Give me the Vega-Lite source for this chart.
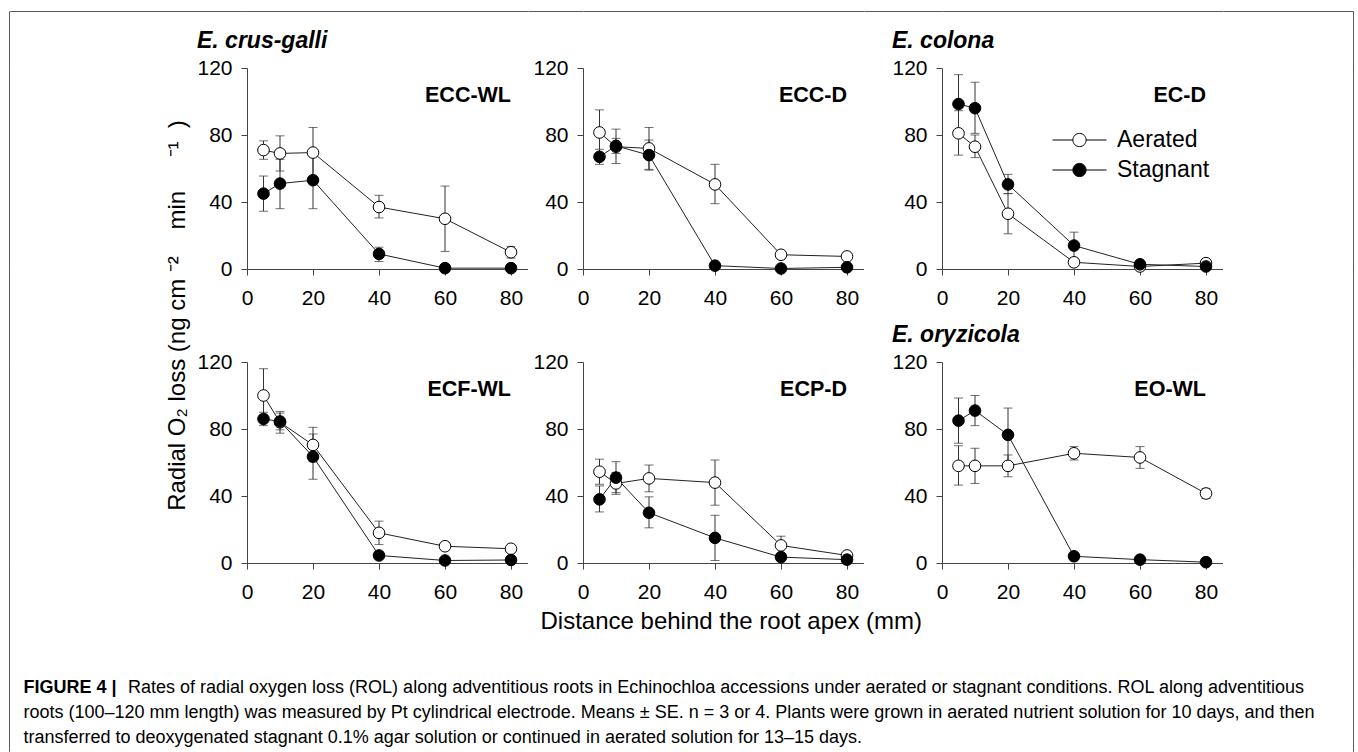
{
  "$schema": "https://vega.github.io/schema/vega-lite/v6.json",
  "padding": {"left": 8, "top": 10, "right": 0, "bottom": 0},
  "autosize": {"type": "pad"},
  "datasets": {
    "rol": [
      {"p": "ECC-WL", "t": "Aerated", "d": 5, "v": 71, "lo": 65.5, "hi": 76.5},
      {"p": "ECC-WL", "t": "Aerated", "d": 10, "v": 69, "lo": 58.5, "hi": 79.5},
      {"p": "ECC-WL", "t": "Aerated", "d": 20, "v": 69.5, "lo": 54.5, "hi": 84.5},
      {"p": "ECC-WL", "t": "Aerated", "d": 40, "v": 37, "lo": 30.5, "hi": 44},
      {"p": "ECC-WL", "t": "Aerated", "d": 60, "v": 30, "lo": 10.5, "hi": 49.5},
      {"p": "ECC-WL", "t": "Aerated", "d": 80, "v": 10, "lo": 6.5, "hi": 13.5},
      {"p": "ECC-WL", "t": "Stagnant", "d": 5, "v": 45, "lo": 34.5, "hi": 55.5},
      {"p": "ECC-WL", "t": "Stagnant", "d": 10, "v": 51, "lo": 36, "hi": 65.5},
      {"p": "ECC-WL", "t": "Stagnant", "d": 20, "v": 53, "lo": 36, "hi": 70},
      {"p": "ECC-WL", "t": "Stagnant", "d": 40, "v": 9, "lo": 4.5, "hi": 13},
      {"p": "ECC-WL", "t": "Stagnant", "d": 60, "v": 0.5, "lo": 0.5, "hi": 0.5},
      {"p": "ECC-WL", "t": "Stagnant", "d": 80, "v": 0.5, "lo": 0.5, "hi": 0.5},
      {"p": "ECC-D", "t": "Aerated", "d": 5, "v": 81.5, "lo": 68, "hi": 95},
      {"p": "ECC-D", "t": "Aerated", "d": 10, "v": 73, "lo": 63, "hi": 83.5},
      {"p": "ECC-D", "t": "Aerated", "d": 20, "v": 72, "lo": 59.5, "hi": 84.5},
      {"p": "ECC-D", "t": "Aerated", "d": 40, "v": 50.5, "lo": 39, "hi": 62.5},
      {"p": "ECC-D", "t": "Aerated", "d": 60, "v": 8.5, "lo": 7, "hi": 10},
      {"p": "ECC-D", "t": "Aerated", "d": 80, "v": 7.5, "lo": 6.5, "hi": 8.5},
      {"p": "ECC-D", "t": "Stagnant", "d": 5, "v": 67, "lo": 62.5, "hi": 71.5},
      {"p": "ECC-D", "t": "Stagnant", "d": 10, "v": 73.5, "lo": 69, "hi": 78},
      {"p": "ECC-D", "t": "Stagnant", "d": 20, "v": 68, "lo": 59, "hi": 77},
      {"p": "ECC-D", "t": "Stagnant", "d": 40, "v": 2, "lo": 1, "hi": 3},
      {"p": "ECC-D", "t": "Stagnant", "d": 60, "v": 0.3, "lo": 0, "hi": 0.6},
      {"p": "ECC-D", "t": "Stagnant", "d": 80, "v": 1, "lo": 0.5, "hi": 1.5},
      {"p": "EC-D", "t": "Aerated", "d": 5, "v": 81, "lo": 68, "hi": 94.5},
      {"p": "EC-D", "t": "Aerated", "d": 10, "v": 73, "lo": 66.5, "hi": 80},
      {"p": "EC-D", "t": "Aerated", "d": 20, "v": 33, "lo": 21, "hi": 45},
      {"p": "EC-D", "t": "Aerated", "d": 40, "v": 4, "lo": 1.5, "hi": 6.5},
      {"p": "EC-D", "t": "Aerated", "d": 60, "v": 1.5, "lo": 0.5, "hi": 2.5},
      {"p": "EC-D", "t": "Aerated", "d": 80, "v": 3.5, "lo": 2, "hi": 5},
      {"p": "EC-D", "t": "Stagnant", "d": 5, "v": 98.5, "lo": 81, "hi": 116},
      {"p": "EC-D", "t": "Stagnant", "d": 10, "v": 96, "lo": 81, "hi": 111.5},
      {"p": "EC-D", "t": "Stagnant", "d": 20, "v": 50.5, "lo": 45, "hi": 56.5},
      {"p": "EC-D", "t": "Stagnant", "d": 40, "v": 14, "lo": 6, "hi": 22},
      {"p": "EC-D", "t": "Stagnant", "d": 60, "v": 2.8, "lo": 1.5, "hi": 4},
      {"p": "EC-D", "t": "Stagnant", "d": 80, "v": 1.5, "lo": 0.5, "hi": 2.5},
      {"p": "ECF-WL", "t": "Aerated", "d": 5, "v": 100, "lo": 84, "hi": 116},
      {"p": "ECF-WL", "t": "Aerated", "d": 10, "v": 84, "lo": 77.5, "hi": 90.5},
      {"p": "ECF-WL", "t": "Aerated", "d": 20, "v": 70.5, "lo": 60.5, "hi": 81},
      {"p": "ECF-WL", "t": "Aerated", "d": 40, "v": 18, "lo": 11, "hi": 25},
      {"p": "ECF-WL", "t": "Aerated", "d": 60, "v": 10, "lo": 8, "hi": 12},
      {"p": "ECF-WL", "t": "Aerated", "d": 80, "v": 8.5, "lo": 7, "hi": 10},
      {"p": "ECF-WL", "t": "Stagnant", "d": 5, "v": 86, "lo": 82, "hi": 90},
      {"p": "ECF-WL", "t": "Stagnant", "d": 10, "v": 84.5, "lo": 79.5, "hi": 89.5},
      {"p": "ECF-WL", "t": "Stagnant", "d": 20, "v": 63.5, "lo": 50, "hi": 77},
      {"p": "ECF-WL", "t": "Stagnant", "d": 40, "v": 4.5, "lo": 2.5, "hi": 6.5},
      {"p": "ECF-WL", "t": "Stagnant", "d": 60, "v": 1.5, "lo": 0.5, "hi": 2.5},
      {"p": "ECF-WL", "t": "Stagnant", "d": 80, "v": 1.8, "lo": 0.8, "hi": 2.8},
      {"p": "ECP-D", "t": "Aerated", "d": 5, "v": 54.5, "lo": 47, "hi": 62},
      {"p": "ECP-D", "t": "Aerated", "d": 10, "v": 47.5, "lo": 41, "hi": 54},
      {"p": "ECP-D", "t": "Aerated", "d": 20, "v": 50.5, "lo": 42.5, "hi": 58.5},
      {"p": "ECP-D", "t": "Aerated", "d": 40, "v": 48, "lo": 34.5, "hi": 61.5},
      {"p": "ECP-D", "t": "Aerated", "d": 60, "v": 10.5, "lo": 5, "hi": 16},
      {"p": "ECP-D", "t": "Aerated", "d": 80, "v": 4.5, "lo": 3, "hi": 6},
      {"p": "ECP-D", "t": "Stagnant", "d": 5, "v": 38, "lo": 30.5, "hi": 46},
      {"p": "ECP-D", "t": "Stagnant", "d": 10, "v": 51, "lo": 42, "hi": 60.5},
      {"p": "ECP-D", "t": "Stagnant", "d": 20, "v": 30, "lo": 21, "hi": 39.5},
      {"p": "ECP-D", "t": "Stagnant", "d": 40, "v": 15, "lo": 1.5, "hi": 28.5},
      {"p": "ECP-D", "t": "Stagnant", "d": 60, "v": 3.5, "lo": 1.5, "hi": 5.5},
      {"p": "ECP-D", "t": "Stagnant", "d": 80, "v": 2, "lo": 1, "hi": 3},
      {"p": "EO-WL", "t": "Aerated", "d": 5, "v": 58, "lo": 46.5, "hi": 70},
      {"p": "EO-WL", "t": "Aerated", "d": 10, "v": 58, "lo": 47.5, "hi": 68.5},
      {"p": "EO-WL", "t": "Aerated", "d": 20, "v": 58, "lo": 51.5, "hi": 64.5},
      {"p": "EO-WL", "t": "Aerated", "d": 40, "v": 65.5, "lo": 61.5, "hi": 69.5},
      {"p": "EO-WL", "t": "Aerated", "d": 60, "v": 63, "lo": 56.5, "hi": 69.5},
      {"p": "EO-WL", "t": "Aerated", "d": 80, "v": 41.5, "lo": 38.5, "hi": 44.5},
      {"p": "EO-WL", "t": "Stagnant", "d": 5, "v": 85, "lo": 71.5, "hi": 98.5},
      {"p": "EO-WL", "t": "Stagnant", "d": 10, "v": 91, "lo": 82, "hi": 100},
      {"p": "EO-WL", "t": "Stagnant", "d": 20, "v": 76.5, "lo": 60, "hi": 92.5},
      {"p": "EO-WL", "t": "Stagnant", "d": 40, "v": 4, "lo": 2.5, "hi": 5.5},
      {"p": "EO-WL", "t": "Stagnant", "d": 60, "v": 2, "lo": 1, "hi": 3},
      {"p": "EO-WL", "t": "Stagnant", "d": 80, "v": 0.5, "lo": 0, "hi": 1}
    ]
  },
  "config": {
    "font": "Liberation Sans",
    "view": {"stroke": null},
    "axis": {"grid": false, "domainColor": "#444", "tickColor": "#444", "tickSize": 6, "domainWidth": 1, "tickWidth": 1, "labelFontSize": 21, "labelColor": "#000", "labelFont": "Liberation Sans", "labelPadding": 9},
    "legend": {"padding": 0},
    "title": {"color": "#000", "font": "Liberation Sans"}
  },
  "bounds": "flush",
  "align": "each",
  "spacing": 0,
  "columns": 9,
  "resolve": {"scale": {"x": "independent", "y": "independent", "fill": "independent"}, "legend": {"fill": "independent"}},
  "concat": [
    {"width": 0.01, "height": 57, "data": {"values": []}, "mark": "point", "view": {"stroke": "#5a5a5a"}},
    {"width": 237, "height": 0.01, "data": {"values": []}, "mark": "point", "view": {"stroke": "#5a5a5a"}},
    {"width": 280.5, "height": 0.01, "data": {"values": []}, "mark": "point", "view": {"stroke": "#5a5a5a"}},
    {"width": 54.5, "height": 0.01, "data": {"values": []}, "mark": "point", "view": {"stroke": "#5a5a5a"}},
    {"width": 280.5, "height": 0.01, "data": {"values": []}, "mark": "point", "view": {"stroke": "#5a5a5a"}},
    {"width": 77.5, "height": 0.01, "data": {"values": []}, "mark": "point", "view": {"stroke": "#5a5a5a"}},
    {"width": 280.5, "height": 0.01, "data": {"values": []}, "mark": "point", "view": {"stroke": "#5a5a5a"}},
    {"width": 129.5, "height": 0.01, "data": {"values": []}, "mark": "point", "view": {"stroke": "#5a5a5a"}},
    {"width": 0.01, "height": 57, "data": {"values": []}, "mark": "point", "view": {"stroke": "#5a5a5a"}},

    {"width": 0.01, "height": 201, "data": {"values": []}, "mark": "point", "view": {"stroke": "#5a5a5a"}},
    {"width": 0.01, "height": 0.01, "data": {"values": []}, "mark": "point"},
    {
      "width": 280.5, "height": 201,
      "title": {"text": "E. crus-galli", "anchor": "start", "frame": "bounds", "offset": 4, "fontSize": 23, "fontStyle": "italic", "fontWeight": "bold"},
      "data": {"name": "rol"},
      "transform": [{"filter": "datum.p == 'ECC-WL'"}],
      "layer": [
        {"mark": {"type": "errorbar", "ticks": {"size": 9}, "color": "#333", "thickness": 1},
         "encoding": {"x": {"field": "d", "type": "quantitative", "title": null, "scale": {"domain": [0, 85], "nice": false, "zero": false}, "axis": {"values": [0, 20, 40, 60, 80], "labelFlush": false, "labelPadding": 12}},
                      "y": {"field": "lo", "type": "quantitative", "title": null, "scale": {"domain": [0, 120], "nice": false}, "axis": {"values": [0, 20, 40, 60, 80, 100, 120]}},
                      "y2": {"field": "hi"}}},
        {"mark": {"type": "line", "color": "#222", "strokeWidth": 1},
         "encoding": {"x": {"field": "d", "type": "quantitative", "title": null}, "y": {"field": "v", "type": "quantitative", "title": null}, "detail": {"field": "t"}}},
        {"mark": {"type": "point", "shape": "circle", "filled": true, "size": 135, "stroke": "#000", "strokeWidth": 1, "opacity": 1},
         "encoding": {"x": {"field": "d", "type": "quantitative", "title": null}, "y": {"field": "v", "type": "quantitative", "title": null}, "fill": {"field": "t", "type": "nominal", "scale": {"domain": ["Aerated", "Stagnant"], "range": ["#ffffff", "#000000"]}, "legend": null}}},
        {"data": {"values": [{"label": "ECC-WL"}]}, "mark": {"type": "text", "align": "right", "baseline": "alphabetic", "fontSize": 21.5, "fontWeight": "bold", "color": "#000"},
         "encoding": {"x": {"datum": 80}, "y": {"datum": 100}, "text": {"field": "label"}}}
      ]
    },
    {"width": 0.01, "height": 0.01, "data": {"values": []}, "mark": "point"},
    {
      "width": 280.5, "height": 201,
      "data": {"name": "rol"},
      "transform": [{"filter": "datum.p == 'ECC-D'"}],
      "layer": [
        {"mark": {"type": "errorbar", "ticks": {"size": 9}, "color": "#333", "thickness": 1},
         "encoding": {"x": {"field": "d", "type": "quantitative", "title": null, "scale": {"domain": [0, 85], "nice": false, "zero": false}, "axis": {"values": [0, 20, 40, 60, 80], "labelFlush": false, "labelPadding": 12}},
                      "y": {"field": "lo", "type": "quantitative", "title": null, "scale": {"domain": [0, 120], "nice": false}, "axis": {"values": [0, 20, 40, 60, 80, 100, 120]}},
                      "y2": {"field": "hi"}}},
        {"mark": {"type": "line", "color": "#222", "strokeWidth": 1},
         "encoding": {"x": {"field": "d", "type": "quantitative", "title": null}, "y": {"field": "v", "type": "quantitative", "title": null}, "detail": {"field": "t"}}},
        {"mark": {"type": "point", "shape": "circle", "filled": true, "size": 135, "stroke": "#000", "strokeWidth": 1, "opacity": 1},
         "encoding": {"x": {"field": "d", "type": "quantitative", "title": null}, "y": {"field": "v", "type": "quantitative", "title": null}, "fill": {"field": "t", "type": "nominal", "scale": {"domain": ["Aerated", "Stagnant"], "range": ["#ffffff", "#000000"]}, "legend": null}}},
        {"data": {"values": [{"label": "ECC-D"}]}, "mark": {"type": "text", "align": "right", "baseline": "alphabetic", "fontSize": 21.5, "fontWeight": "bold", "color": "#000"},
         "encoding": {"x": {"datum": 80}, "y": {"datum": 100}, "text": {"field": "label"}}}
      ]
    },
    {"width": 0.01, "height": 0.01, "data": {"values": []}, "mark": "point"},
    {
      "width": 280.5, "height": 201,
      "title": {"text": "E. colona", "anchor": "start", "frame": "bounds", "offset": 4, "fontSize": 23, "fontStyle": "italic", "fontWeight": "bold"},
      "data": {"name": "rol"},
      "transform": [{"filter": "datum.p == 'EC-D'"}],
      "layer": [
        {"mark": {"type": "errorbar", "ticks": {"size": 9}, "color": "#333", "thickness": 1},
         "encoding": {"x": {"field": "d", "type": "quantitative", "title": null, "scale": {"domain": [0, 85], "nice": false, "zero": false}, "axis": {"values": [0, 20, 40, 60, 80], "labelFlush": false, "labelPadding": 12}},
                      "y": {"field": "lo", "type": "quantitative", "title": null, "scale": {"domain": [0, 120], "nice": false}, "axis": {"values": [0, 20, 40, 60, 80, 100, 120]}},
                      "y2": {"field": "hi"}}},
        {"mark": {"type": "line", "color": "#222", "strokeWidth": 1},
         "encoding": {"x": {"field": "d", "type": "quantitative", "title": null}, "y": {"field": "v", "type": "quantitative", "title": null}, "detail": {"field": "t"}}},
        {"mark": {"type": "point", "shape": "circle", "filled": true, "size": 135, "stroke": "#000", "strokeWidth": 1, "opacity": 1},
         "encoding": {"x": {"field": "d", "type": "quantitative", "title": null}, "y": {"field": "v", "type": "quantitative", "title": null},
                      "fill": {"field": "t", "type": "nominal", "scale": {"domain": ["Aerated", "Stagnant"], "range": ["#ffffff", "#000000"]},
                               "legend": {"title": null, "orient": "none", "legendX": 110, "legendY": 57, "symbolType": "M-1,0L-0.245,0M0.245,0L1,0M0.245,0A0.245,0.245,0,1,1,-0.245,0A0.245,0.245,0,1,1,0.245,0Z", "symbolSize": 2916, "symbolStrokeColor": "#000", "symbolStrokeWidth": 1, "labelFontSize": 23, "labelColor": "#000", "labelFont": "Liberation Sans", "labelOffset": 10, "rowPadding": 0, "clipHeight": 30}}}},
        {"data": {"values": [{"label": "EC-D"}]}, "mark": {"type": "text", "align": "right", "baseline": "alphabetic", "fontSize": 21.5, "fontWeight": "bold", "color": "#000"},
         "encoding": {"x": {"datum": 80}, "y": {"datum": 100}, "text": {"field": "label"}}}
      ]
    },
    {"width": 0.01, "height": 0.01, "data": {"values": []}, "mark": "point"},
    {"width": 0.01, "height": 201, "data": {"values": []}, "mark": "point", "view": {"stroke": "#5a5a5a"}},

    {"width": 0.01, "height": 93, "data": {"values": []}, "mark": "point", "view": {"stroke": "#5a5a5a"}},
    {"width": 0.01, "height": 0.01, "data": {"values": []}, "mark": "point"},
    {"width": 0.01, "height": 0.01, "data": {"values": []}, "mark": "point"},
    {"width": 0.01, "height": 0.01, "data": {"values": []}, "mark": "point"},
    {"width": 0.01, "height": 0.01, "data": {"values": []}, "mark": "point"},
    {"width": 0.01, "height": 0.01, "data": {"values": []}, "mark": "point"},
    {"width": 0.01, "height": 0.01, "data": {"values": []}, "mark": "point"},
    {"width": 0.01, "height": 0.01, "data": {"values": []}, "mark": "point"},
    {"width": 0.01, "height": 93, "data": {"values": []}, "mark": "point", "view": {"stroke": "#5a5a5a"}},

    {"width": 0.01, "height": 201, "data": {"values": []}, "mark": "point", "view": {"stroke": "#5a5a5a"}},
    {"width": 0.01, "height": 0.01, "data": {"values": []}, "mark": "point"},
    {
      "width": 280.5, "height": 201,
      "title": {"text": "Radial O₂ loss (ng cm\u00a0⁻²\u00a0\u00a0\u00a0\u00a0min\u00a0\u00a0\u00a0\u00a0\u00a0⁻¹\u00a0\u00a0)", "orient": "left", "anchor": "middle", "frame": "group", "offset": 7, "dx": 147, "fontSize": 24, "fontWeight": "normal"},
      "data": {"name": "rol"},
      "transform": [{"filter": "datum.p == 'ECF-WL'"}],
      "layer": [
        {"mark": {"type": "errorbar", "ticks": {"size": 9}, "color": "#333", "thickness": 1},
         "encoding": {"x": {"field": "d", "type": "quantitative", "title": null, "scale": {"domain": [0, 85], "nice": false, "zero": false}, "axis": {"values": [0, 20, 40, 60, 80], "labelFlush": false, "labelPadding": 12}},
                      "y": {"field": "lo", "type": "quantitative", "title": null, "scale": {"domain": [0, 120], "nice": false}, "axis": {"values": [0, 20, 40, 60, 80, 100, 120]}},
                      "y2": {"field": "hi"}}},
        {"mark": {"type": "line", "color": "#222", "strokeWidth": 1},
         "encoding": {"x": {"field": "d", "type": "quantitative", "title": null}, "y": {"field": "v", "type": "quantitative", "title": null}, "detail": {"field": "t"}}},
        {"mark": {"type": "point", "shape": "circle", "filled": true, "size": 135, "stroke": "#000", "strokeWidth": 1, "opacity": 1},
         "encoding": {"x": {"field": "d", "type": "quantitative", "title": null}, "y": {"field": "v", "type": "quantitative", "title": null}, "fill": {"field": "t", "type": "nominal", "scale": {"domain": ["Aerated", "Stagnant"], "range": ["#ffffff", "#000000"]}, "legend": null}}},
        {"data": {"values": [{"label": "ECF-WL"}]}, "mark": {"type": "text", "align": "right", "baseline": "alphabetic", "fontSize": 21.5, "fontWeight": "bold", "color": "#000"},
         "encoding": {"x": {"datum": 80}, "y": {"datum": 100}, "text": {"field": "label"}}}
      ]
    },
    {"width": 0.01, "height": 0.01, "data": {"values": []}, "mark": "point"},
    {
      "width": 280.5, "height": 201,
      "title": {"text": "Distance behind the root apex (mm)", "orient": "bottom", "anchor": "middle", "frame": "group", "offset": 8, "dx": 8, "fontSize": 24, "fontWeight": "normal"},
      "data": {"name": "rol"},
      "transform": [{"filter": "datum.p == 'ECP-D'"}],
      "layer": [
        {"mark": {"type": "errorbar", "ticks": {"size": 9}, "color": "#333", "thickness": 1},
         "encoding": {"x": {"field": "d", "type": "quantitative", "title": null, "scale": {"domain": [0, 85], "nice": false, "zero": false}, "axis": {"values": [0, 20, 40, 60, 80], "labelFlush": false, "labelPadding": 12}},
                      "y": {"field": "lo", "type": "quantitative", "title": null, "scale": {"domain": [0, 120], "nice": false}, "axis": {"values": [0, 20, 40, 60, 80, 100, 120]}},
                      "y2": {"field": "hi"}}},
        {"mark": {"type": "line", "color": "#222", "strokeWidth": 1},
         "encoding": {"x": {"field": "d", "type": "quantitative", "title": null}, "y": {"field": "v", "type": "quantitative", "title": null}, "detail": {"field": "t"}}},
        {"mark": {"type": "point", "shape": "circle", "filled": true, "size": 135, "stroke": "#000", "strokeWidth": 1, "opacity": 1},
         "encoding": {"x": {"field": "d", "type": "quantitative", "title": null}, "y": {"field": "v", "type": "quantitative", "title": null}, "fill": {"field": "t", "type": "nominal", "scale": {"domain": ["Aerated", "Stagnant"], "range": ["#ffffff", "#000000"]}, "legend": null}}},
        {"data": {"values": [{"label": "ECP-D"}]}, "mark": {"type": "text", "align": "right", "baseline": "alphabetic", "fontSize": 21.5, "fontWeight": "bold", "color": "#000"},
         "encoding": {"x": {"datum": 80}, "y": {"datum": 100}, "text": {"field": "label"}}}
      ]
    },
    {"width": 0.01, "height": 0.01, "data": {"values": []}, "mark": "point"},
    {
      "width": 280.5, "height": 201,
      "title": {"text": "E. oryzicola", "anchor": "start", "frame": "bounds", "offset": 4, "fontSize": 23, "fontStyle": "italic", "fontWeight": "bold"},
      "data": {"name": "rol"},
      "transform": [{"filter": "datum.p == 'EO-WL'"}],
      "layer": [
        {"mark": {"type": "errorbar", "ticks": {"size": 9}, "color": "#333", "thickness": 1},
         "encoding": {"x": {"field": "d", "type": "quantitative", "title": null, "scale": {"domain": [0, 85], "nice": false, "zero": false}, "axis": {"values": [0, 20, 40, 60, 80], "labelFlush": false, "labelPadding": 12}},
                      "y": {"field": "lo", "type": "quantitative", "title": null, "scale": {"domain": [0, 120], "nice": false}, "axis": {"values": [0, 20, 40, 60, 80, 100, 120]}},
                      "y2": {"field": "hi"}}},
        {"mark": {"type": "line", "color": "#222", "strokeWidth": 1},
         "encoding": {"x": {"field": "d", "type": "quantitative", "title": null}, "y": {"field": "v", "type": "quantitative", "title": null}, "detail": {"field": "t"}}},
        {"mark": {"type": "point", "shape": "circle", "filled": true, "size": 135, "stroke": "#000", "strokeWidth": 1, "opacity": 1},
         "encoding": {"x": {"field": "d", "type": "quantitative", "title": null}, "y": {"field": "v", "type": "quantitative", "title": null}, "fill": {"field": "t", "type": "nominal", "scale": {"domain": ["Aerated", "Stagnant"], "range": ["#ffffff", "#000000"]}, "legend": null}}},
        {"data": {"values": [{"label": "EO-WL"}]}, "mark": {"type": "text", "align": "right", "baseline": "alphabetic", "fontSize": 21.5, "fontWeight": "bold", "color": "#000"},
         "encoding": {"x": {"datum": 80}, "y": {"datum": 100}, "text": {"field": "label"}}}
      ]
    },
    {"width": 0.01, "height": 0.01, "data": {"values": []}, "mark": "point"},
    {"width": 0.01, "height": 201, "data": {"values": []}, "mark": "point", "view": {"stroke": "#5a5a5a"}},

    {"width": 0.01, "height": 188, "data": {"values": []}, "mark": "point", "view": {"stroke": "#5a5a5a"}},
    {
      "width": 0.01, "height": 116, "data": {"values": []}, "mark": "point",
      "title": {
        "text": "FIGURE 4 |",
        "subtitle": [
          "roots (100–120 mm length) was measured by Pt cylindrical electrode. Means ± SE. n = 3 or 4. Plants were grown in aerated nutrient solution for 10 days, and then",
          "transferred to deoxygenated stagnant 0.1% agar solution or continued in aerated solution for 13–15 days."
        ],
        "orient": "bottom", "anchor": "start", "frame": "group", "offset": 0, "dx": 13.5,
        "fontSize": 18, "fontWeight": "bold",
        "subtitleFontSize": 18, "subtitleFont": "Liberation Sans", "subtitleColor": "#000", "subtitleLineHeight": 25, "subtitlePadding": 7
      }
    },
    {
      "width": 0.01, "height": 116, "data": {"values": []}, "mark": "point",
      "title": {
        "text": "Rates of radial oxygen loss (ROL) along adventitious roots in Echinochloa accessions under aerated or stagnant conditions. ROL along adventitious",
        "orient": "bottom", "anchor": "start", "frame": "group", "offset": 0, "dx": -119,
        "fontSize": 18, "fontWeight": "normal"
      }
    },
    {"width": 0.01, "height": 0.01, "data": {"values": []}, "mark": "point"},
    {"width": 0.01, "height": 0.01, "data": {"values": []}, "mark": "point"},
    {"width": 0.01, "height": 0.01, "data": {"values": []}, "mark": "point"},
    {"width": 0.01, "height": 0.01, "data": {"values": []}, "mark": "point"},
    {"width": 0.01, "height": 0.01, "data": {"values": []}, "mark": "point"},
    {"width": 0.01, "height": 188, "data": {"values": []}, "mark": "point", "view": {"stroke": "#5a5a5a"}}
  ]
}
